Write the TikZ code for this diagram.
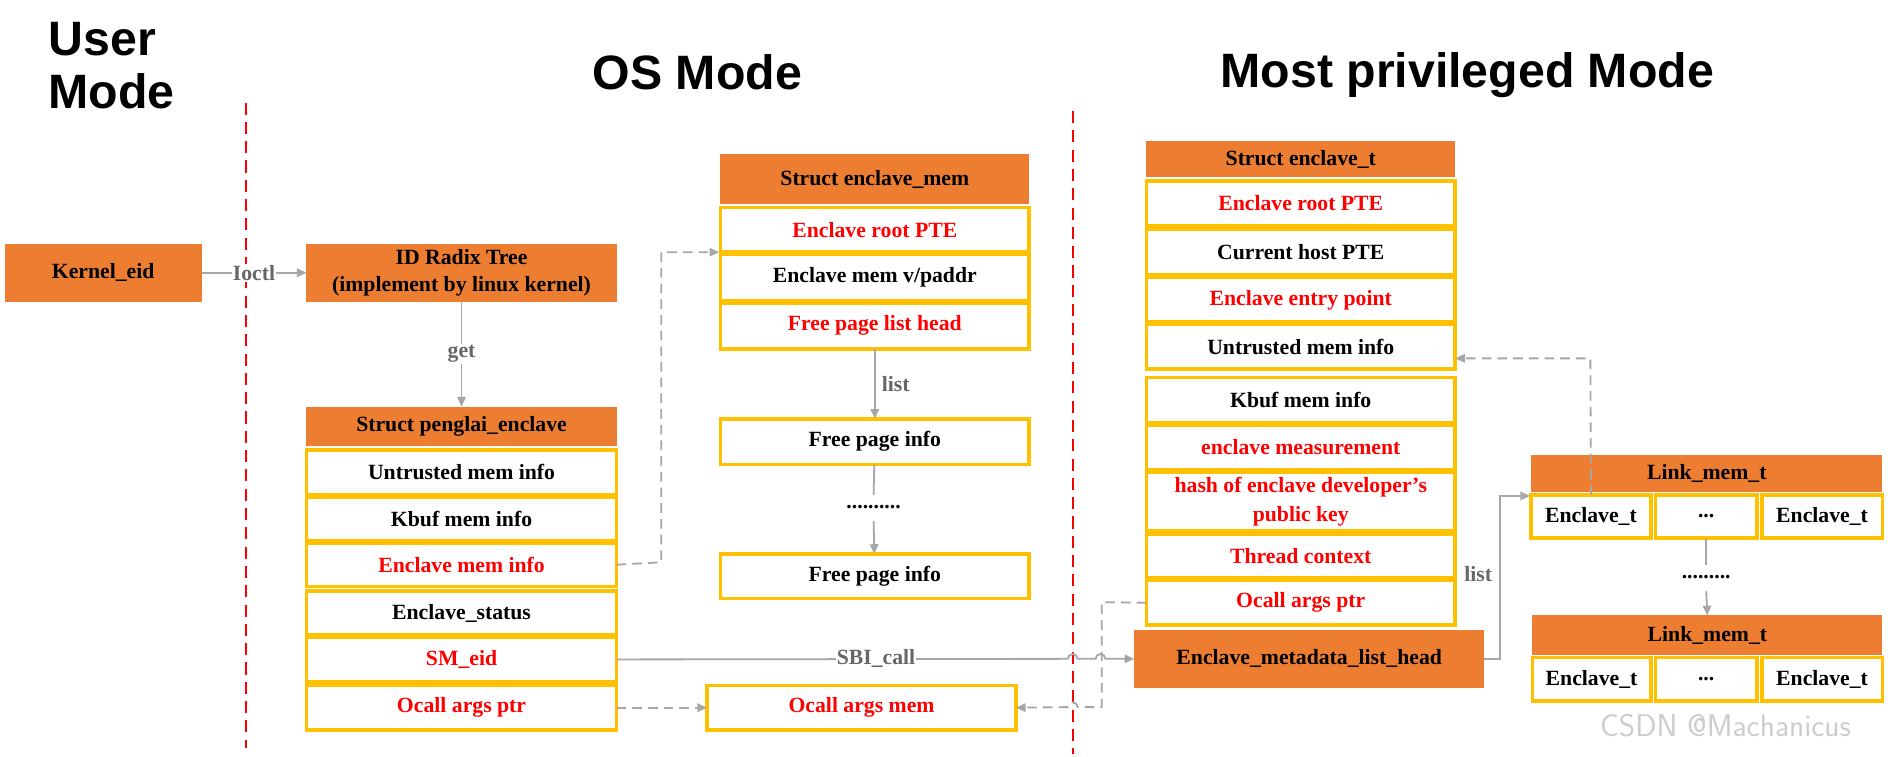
\documentclass[tikz,border=0pt]{standalone}
\usepackage{fontspec}
\setmainfont{Liberation Serif}
\newfontfamily\ttl{Liberation Sans}
\usetikzlibrary{arrows.meta}
\definecolor{org}{HTML}{ED7D31}
\definecolor{yel}{HTML}{FFC000}
\definecolor{gr}{HTML}{A6A6A6}
\newcommand\bx[7]{\node[#6, minimum width={(#4-#2)*1pt}, minimum height={(#5-#3)*1pt}] (#1) at ({(#2+#4)/2},{(#3+#5)/2}) {#7};}
\begin{document}
\begin{tikzpicture}[x=1pt,y=-1pt,
 base/.style={inner sep=0pt,outer sep=0pt,align=center,font=\fontsize{18}{21}\selectfont\bfseries},
 hdr/.style={base,fill=org},
 row/.style={base,draw=yel,line width=3pt,fill=white},
 rt/.style={text=red},
 conn/.style={draw=gr,line width=1.5pt},
 arr/.style={conn,-{Triangle[length=8pt,width=7pt]}},
 dsh/.style={dash pattern=on 8pt off 5pt},
 lab/.style={text=gray!80!black,font=\fontsize{18}{21}\selectfont\bfseries,fill=white,inner sep=1pt},
 title/.style={font=\ttl\bfseries\fontsize{40}{48}\selectfont,inner sep=0pt}]
\useasboundingbox (0,0) rectangle (1568,627);
\node[title,anchor=north west,align=left] (tu) at (40,18) {User\\[-4pt]Mode};
\node[title] (to) at (578,60) {OS Mode};
\node[title] (tm) at (1216,62) {Most privileged Mode};
\draw[red,line width=1.5pt,dash pattern=on 10pt off 6pt] (204,85) -- (204,620);
\draw[red,line width=1.5pt,dash pattern=on 10pt off 6pt] (889,92) -- (889,625);
% left
\bx{ke}{4}{202}{167}{250}{hdr}{Kernel\_eid}
\bx{rt}{254}{202}{511}{250}{hdr,font=\fontsize{18}{22}\selectfont\bfseries}{ID Radix Tree\\(implement by linux kernel)}
\bx{pe}{254}{337}{511}{370}{hdr}{Struct penglai\_enclave}
\bx{p1}{254}{373}{511}{410}{row}{Untrusted mem info}
\bx{p2}{254}{412}{511}{448}{row}{Kbuf mem info}
\bx{p3}{254}{450}{511}{486}{row,rt}{Enclave mem info}
\bx{p4}{254}{490}{511}{526}{row}{Enclave\_status}
\bx{p5}{254}{528}{511}{565}{row,rt}{SM\_eid}
\bx{p6}{254}{568}{511}{605}{row,rt}{Ocall args ptr}
% enclave_mem
\bx{em}{597}{128}{853}{169}{hdr}{Struct enclave\_mem}
\bx{m1}{597}{172}{853}{209}{row,rt}{Enclave root PTE}
\bx{m2}{597}{211}{853}{249}{row}{Enclave mem v/paddr}
\bx{m3}{597}{251}{853}{289}{row,rt}{Free page list head}
\bx{f1}{597}{347}{853}{385}{row}{Free page info}
\bx{f2}{597}{459}{853}{496}{row}{Free page info}
\node[base] (fd) at (724,420) {..........};
\bx{om}{586}{568}{842}{605}{row,rt}{Ocall args mem}
% enclave_t
\bx{et}{950}{117}{1206}{147}{hdr}{Struct enclave\_t}
\bx{e1}{950}{150}{1206}{187}{row,rt}{Enclave root PTE}
\bx{e2}{950}{190}{1206}{228}{row}{Current host PTE}
\bx{e3}{950}{230}{1206}{267}{row,rt}{Enclave entry point}
\bx{e4}{950}{269}{1206}{306}{row}{Untrusted mem info}
\bx{e5}{950}{313}{1206}{350}{row}{Kbuf mem info}
\bx{e6}{950}{352}{1206}{389}{row,rt}{enclave measurement}
\bx{e7}{950}{391}{1206}{440}{row,rt,font=\fontsize{18}{24}\selectfont\bfseries}{hash of enclave developer's\\public key}
\bx{e8}{950}{443}{1206}{479}{row,rt}{Thread context}
\bx{e9}{950}{481}{1206}{518}{row,rt}{Ocall args ptr}
\bx{lh}{940}{522}{1230}{570}{hdr}{Enclave\_metadata\_list\_head}
% link mem
\bx{l1}{1269}{377}{1560}{408}{hdr}{Link\_mem\_t}
\bx{a1}{1269}{410}{1368}{446}{row}{Enclave\_t}
\bx{a2}{1372}{410}{1456}{446}{row}{...}
\bx{a3}{1460}{410}{1560}{446}{row}{Enclave\_t}
\node[base] (ld) at (1414,478) {.........};
\bx{l2}{1270}{510}{1560}{543}{hdr}{Link\_mem\_t}
\bx{b1}{1270}{545}{1368}{581}{row}{Enclave\_t}
\bx{b2}{1372}{545}{1456}{581}{row}{...}
\bx{b3}{1460}{545}{1560}{581}{row}{Enclave\_t}
\node[text=gray!40,font=\fontsize{26}{30}\selectfont\sffamily] (wm) at (1430,601) {CSDN @Machanicus};
% connectors
\draw[arr] (ke) -- node[lab]{Ioctl} (rt);
\draw[arr] (rt) -- node[lab]{get} (pe);
\draw[arr] (m3) -- node[lab,right,xshift=4pt,fill=none]{list} (f1);
\draw[conn] (f1) -- (724,410);
\draw[arr] (724,432) -- (f2);
\draw[arr,dsh] (p3.east) -- (548,466) -- (548,209) -- (596,209);
\draw[arr,dsh] (p6) -- (om);
\draw[arr] (p5.east) -- (885,546) arc(180:360:4) -- (908,546) arc(180:360:4) -- (lh.west);
\node[lab] (sbi) at (726,546) {SBI\_call};
\draw[arr,dsh] (e9.west) -- (913,499) -- (913,586) -- (893,586) arc(0:-180:4) -- (om.east);
\draw[arr] (lh.east) -- (1243,546) -- (1243,411) -- (1268,411);
\node[lab,fill=none] (ll) at (1225,476) {list};
\draw[arr,dsh] (a1.north) -- (1318,297) -- (e4.east |- 0,297);
\draw[conn] (a2.south) -- (1414,468);
\draw[arr] (1414,490) -- (l2.north);
\end{tikzpicture}
\end{document}
